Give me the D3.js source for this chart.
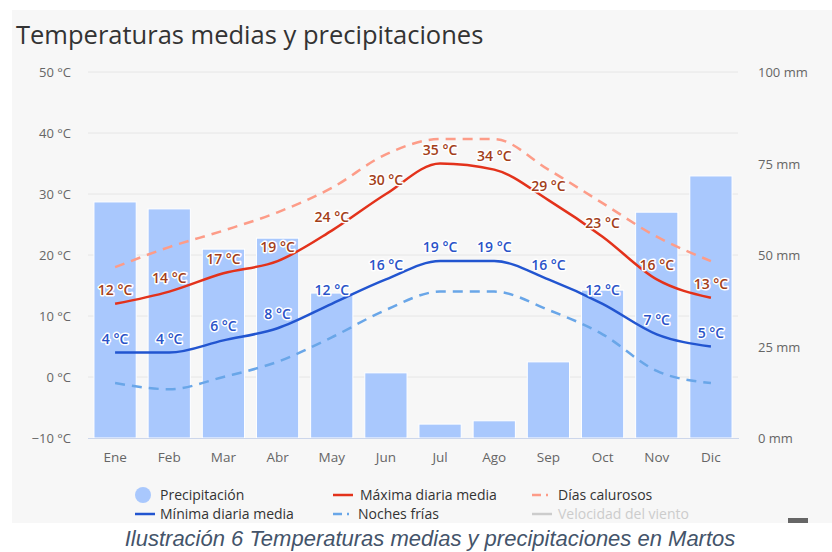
<!DOCTYPE html>
<html>
<head>
<meta charset="utf-8">
<script src="https://cdn.jsdelivr.net/npm/d3@7.9.0/dist/d3.min.js"></script>
<style>
  html, body { margin: 0; padding: 0; background: #fff; }
</style>
</head>
<body>
<svg id="chart" width="832" height="552" font-family='"Open Sans", "Noto Sans", sans-serif'></svg>
<script>
const months = ['Ene', 'Feb', 'Mar', 'Abr', 'May', 'Jun', 'Jul', 'Ago', 'Sep', 'Oct', 'Nov', 'Dic'];
const precipitation = [64.5, 62.6, 51.6, 54.6, 39.6, 17.8, 3.8, 4.7, 20.8, 40.4, 61.7, 71.6];
const maxTemp = [12, 14, 17, 19, 24, 30, 35, 34, 29, 23, 16, 13];
const minTemp = [4, 4, 6, 8, 12, 16, 19, 19, 16, 12, 7, 5];
const hotDays = [18, 21.3, 24, 27, 31, 36.5, 39, 39, 34, 28.5, 23, 19];
const coldNights = [-1, -2, 0, 2.5, 6.5, 11, 14, 14, 11, 7, 1, -1];
const tempTicks = [-10, 0, 10, 20, 30, 40, 50];
const precipTicks = [0, 25, 50, 75, 100];

const svg = d3.select('#chart');

// panel background
svg.append('rect')
  .attr('x', 12).attr('y', 10)
  .attr('width', 820).attr('height', 513)
  .attr('fill', '#f7f7f7');

svg.append('text')
  .attr('x', 16).attr('y', 44)
  .attr('font-size', 25.5)
  .attr('fill', '#333')
  .text('Temperaturas medias y precipitaciones');

const x = d3.scaleBand()
  .domain(months)
  .range([88, 738])
  .paddingInner(0.22)
  .paddingOuter(0.11);

const yT = d3.scaleLinear().domain([-10, 50]).range([438, 72]);
const yP = d3.scaleLinear().domain([0, 100]).range([438, 72]);

// grid lines
svg.append('g')
  .selectAll('line')
  .data(tempTicks.filter(t => t > -10))
  .join('line')
  .attr('x1', 88).attr('x2', 738)
  .attr('y1', d => yT(d)).attr('y2', d => yT(d))
  .attr('stroke', '#e6e6e6');

// left axis labels
svg.append('g')
  .selectAll('text')
  .data(tempTicks)
  .join('text')
  .attr('x', 71)
  .attr('y', d => yT(d) + 5)
  .attr('text-anchor', 'end')
  .attr('font-size', 13)
  .attr('fill', '#666')
  .text(d => (d < 0 ? '\u2212' + Math.abs(d) : d) + ' \u00b0C');

// right axis labels
svg.append('g')
  .selectAll('text')
  .data(precipTicks)
  .join('text')
  .attr('x', 758)
  .attr('y', d => yP(d) + 5)
  .attr('font-size', 13)
  .attr('fill', '#666')
  .text(d => d + ' mm');

// bars
svg.append('g')
  .selectAll('rect')
  .data(months)
  .join('rect')
  .attr('x', d => x(d))
  .attr('width', x.bandwidth())
  .attr('y', (d, i) => yP(precipitation[i]))
  .attr('height', (d, i) => yP(0) - yP(precipitation[i]))
  .attr('fill', '#a9c8fd')
  .attr('stroke', '#fff')
  .attr('stroke-width', 1);

// x axis
svg.append('line')
  .attr('x1', 88).attr('x2', 739)
  .attr('y1', 438.5).attr('y2', 438.5)
  .attr('stroke', '#ccd6eb');

svg.append('g')
  .selectAll('text')
  .data(months)
  .join('text')
  .attr('x', d => x(d) + x.bandwidth() / 2)
  .attr('y', 462)
  .attr('text-anchor', 'middle')
  .attr('font-size', 13.5)
  .attr('fill', '#666')
  .text(d => d);

const cx = i => x(months[i]) + x.bandwidth() / 2;
const line = d3.line()
  .x((d, i) => cx(i))
  .y(d => yT(d))
  .curve(d3.curveMonotoneX);

const series = [
  { values: hotDays, color: '#fd9c88', dash: '10,7' },
  { values: coldNights, color: '#69a6e8', dash: '10,7' },
  { values: maxTemp, color: '#e3321b', dash: null },
  { values: minTemp, color: '#2255d0', dash: null }
];

series.forEach(s => {
  svg.append('path')
    .datum(s.values)
    .attr('d', line)
    .attr('fill', 'none')
    .attr('stroke', s.color)
    .attr('stroke-width', 2.5)
    .attr('stroke-dasharray', s.dash);
});

// data labels
function labels(values, color) {
  svg.append('g')
    .selectAll('text')
    .data(values)
    .join('text')
    .attr('x', (d, i) => cx(i))
    .attr('y', d => yT(d) - 9)
    .attr('text-anchor', 'middle')
    .attr('font-size', 14)
    .attr('font-weight', 600)
    .attr('fill', color)
    .attr('stroke', '#fff')
    .attr('stroke-width', 3)
    .attr('stroke-linejoin', 'round')
    .attr('paint-order', 'stroke')
    .text(d => d + ' \u00b0C');
}
labels(maxTemp, '#a33e19');
labels(minTemp, '#2a53c8');

// legend
const legendItems = [
  { label: 'Precipitación', type: 'circle', color: '#a9c8fd', x: 143, y: 495, tx: 160 },
  { label: 'Máxima diaria media', type: 'line', color: '#e3321b', x: 333, y: 495, tx: 360 },
  { label: 'Días calurosos', type: 'dash', color: '#fd9c88', x: 532, y: 495, tx: 558 },
  { label: 'Mínima diaria media', type: 'line', color: '#2255d0', x: 135, y: 514, tx: 160 },
  { label: 'Noches frías', type: 'dash', color: '#69a6e8', x: 333, y: 514, tx: 358 },
  { label: 'Velocidad del viento', type: 'line', color: '#cccccc', x: 532, y: 514, tx: 558, hidden: true }
];

const lg = svg.append('g');
legendItems.forEach(it => {
  if (it.type === 'circle') {
    lg.append('circle').attr('cx', it.x).attr('cy', it.y).attr('r', 8).attr('fill', it.color);
  } else {
    lg.append('line')
      .attr('x1', it.x).attr('x2', it.x + 20)
      .attr('y1', it.y).attr('y2', it.y)
      .attr('stroke', it.color)
      .attr('stroke-width', 2.5)
      .attr('stroke-dasharray', it.type === 'dash' ? '9,5,2,10' : null);
  }
  lg.append('text')
    .attr('x', it.tx).attr('y', it.y + 5)
    .attr('font-size', 14)
    .attr('fill', it.hidden ? '#cccccc' : '#333')
    .text(it.label);
});

// export button (cut off)
svg.append('rect')
  .attr('x', 788).attr('y', 518)
  .attr('width', 20).attr('height', 8)
  .attr('fill', '#666');

// caption area
svg.append('rect')
  .attr('x', 0).attr('y', 523)
  .attr('width', 832).attr('height', 29)
  .attr('fill', '#fff');

svg.append('text')
  .attr('x', 430).attr('y', 546)
  .attr('text-anchor', 'middle')
  .attr('font-family', '"Liberation Sans", Arial, sans-serif')
  .attr('font-style', 'italic')
  .attr('font-size', 22)
  .attr('fill', '#44546a')
  .text('Ilustración 6 Temperaturas medias y precipitaciones en Martos');
</script>
</body>
</html>
